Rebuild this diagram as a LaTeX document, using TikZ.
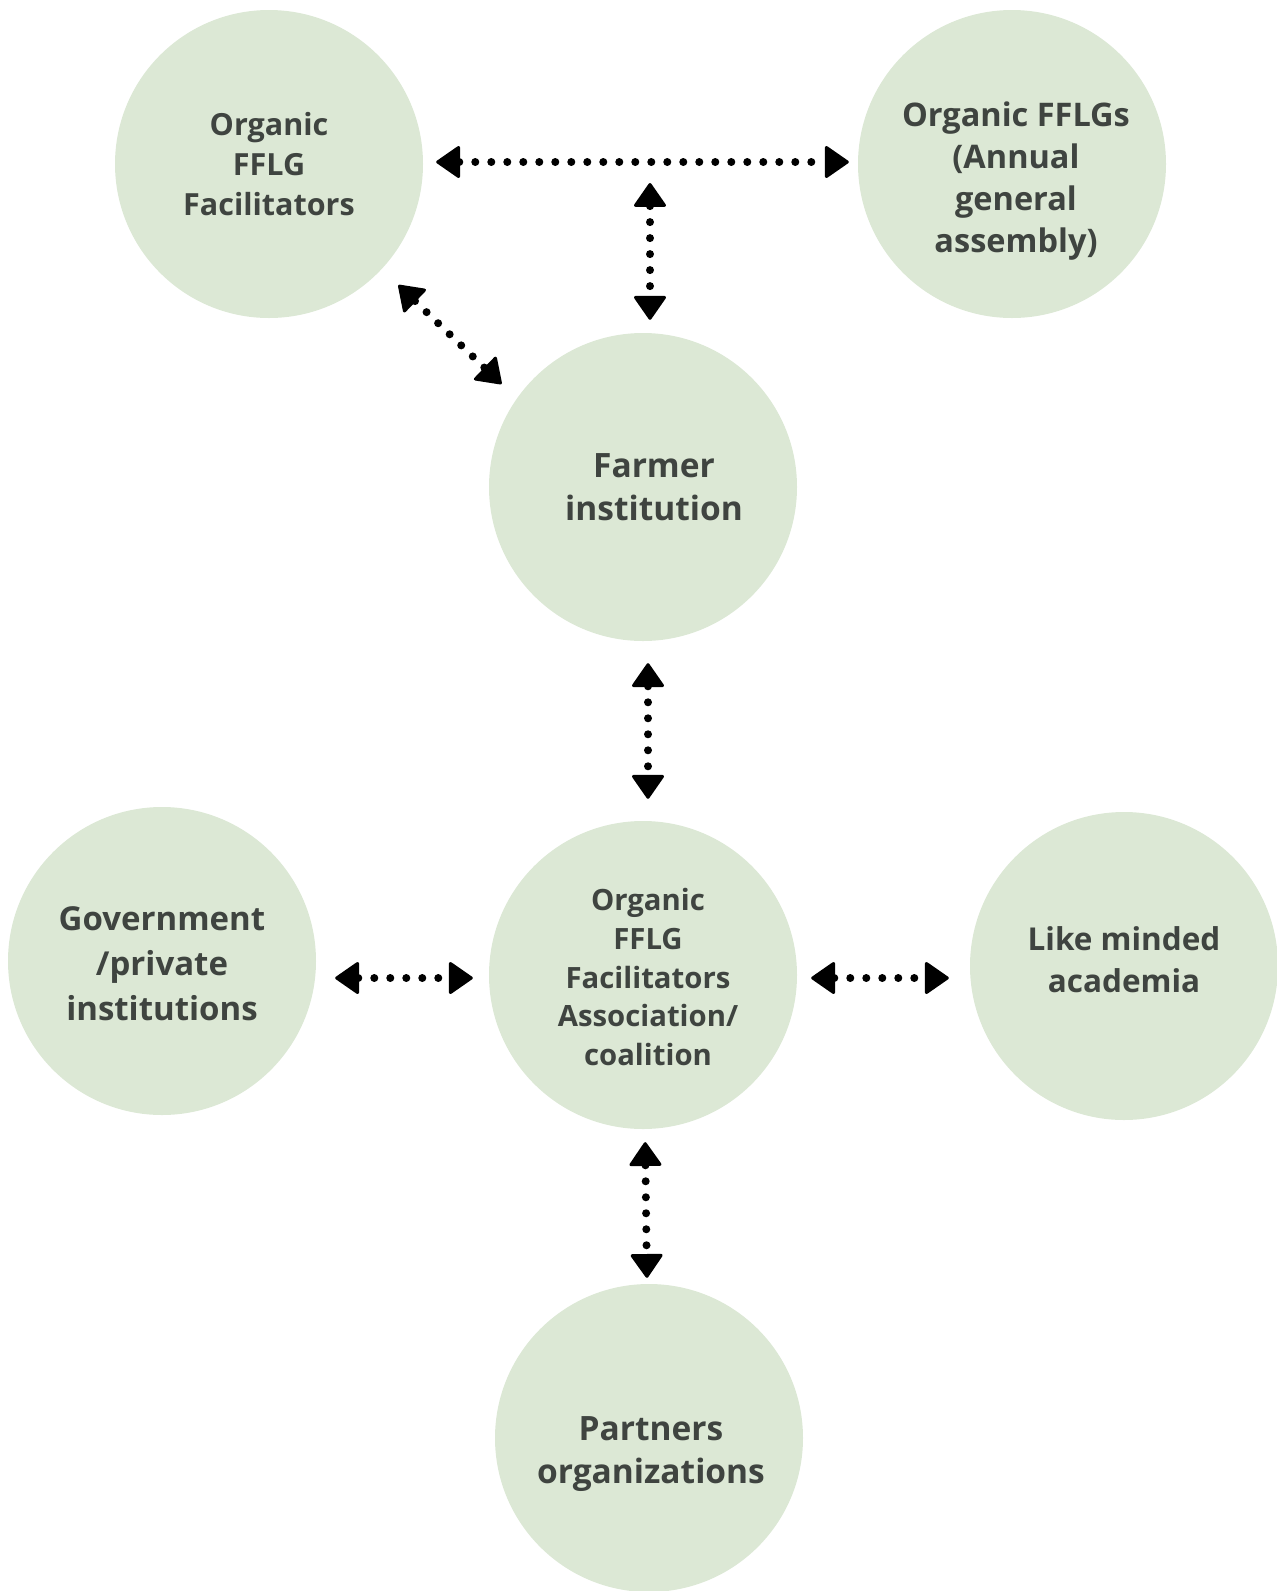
\documentclass[tikz,border=0pt]{standalone}
\usepackage{fontspec}
\setmainfont{Open Sans}
\usepackage{tikz}
\usetikzlibrary{arrows.meta, positioning, calc}
\definecolor{bubblegreen}{HTML}{DCE8D5}
\definecolor{labelgray}{HTML}{3F4440}

\begin{document}
\begin{tikzpicture}[x=1pt, y=-1pt,
  bubble/.style={circle, fill=bubblegreen, minimum size=308pt, inner sep=0pt},
  caption/.style={align=center, text=labelgray, inner sep=0pt},
  link/.style={line width=8pt, line cap=round, dash pattern=on 0pt off 16pt, <->, >={Triangle[round,line width=3pt,length=25pt,width=34pt]}}]
  \useasboundingbox (0,0) rectangle (1277,1591);
  % circles
  \node[bubble] (fac) at (269,164) {};
  \node[bubble] (agm) at (1012,164) {};
  \node[bubble] (farmer) at (643,487) {};
  \node[bubble] (assoc) at (643,975) {};
  \node[bubble] (gov) at (162,961) {};
  \node[bubble] (like) at (1124,966) {};
  \node[bubble] (partners) at (649,1438) {};
  % texts
  \node[caption, font=\bfseries\fontsize{30.5}{40}\selectfont] (fac-t) at (fac) {Organic\\FFLG\\Facilitators};
  \node[caption, font=\bfseries\fontsize{32.5}{42}\selectfont] (agm-t) at ($(agm)+(4,17)$) {Organic FFLGs\\(Annual\\general\\assembly)};
  \node[caption, font=\bfseries\fontsize{33.5}{43}\selectfont] (farmer-t) at ($(farmer)+(11,0)$) {Farmer\\institution};
  \node[caption, font=\bfseries\fontsize{29.3}{38.8}\selectfont] (assoc-t) at ($(assoc)+(5,2)$) {Organic\\FFLG\\Facilitators\\Association/\\coalition};
  \node[caption, font=\bfseries\fontsize{33}{45}\selectfont] (gov-t) at ($(gov)+(0,3)$) {Government\\/private\\institutions};
  \node[caption, font=\bfseries\fontsize{31.5}{42}\selectfont] (like-t) at ($(like)+(0,-6)$) {Like minded\\academia};
  \node[caption, font=\bfseries\fontsize{33.5}{43}\selectfont] (partners-t) at ($(partners)+(2,16)$) {Partners\\organizations};
  \coordinate (hub) at (650,160);
  % links
  \draw[link, shorten <=13pt, shorten >=9pt] ([yshift=2pt]fac.east) -- ([yshift=2pt]agm.west);
  \draw[link, shorten <=23pt, shorten >=13pt] (hub) -- (hub |- farmer.north);
  \draw[link, shorten <=23pt, shorten >=21pt] (fac.-43) -- (farmer.145);
  \draw[link, shorten <=22pt, shorten >=22pt] ([xshift=5pt]farmer.south) -- ([xshift=5pt]assoc.north);
  \draw[link, shorten <=19pt, shorten >=16pt] (gov.east |- assoc.west) ++(0,3) -- ([yshift=-3pt]assoc.west);
  \draw[link, shorten <=14pt, shorten >=21pt] ([yshift=-3pt]assoc.east) -- ($(like.west |- assoc.east)+(0,3)$);
  \draw[link, shorten <=13pt, shorten >=6pt] (assoc) -- (partners);
\end{tikzpicture}
\end{document}
